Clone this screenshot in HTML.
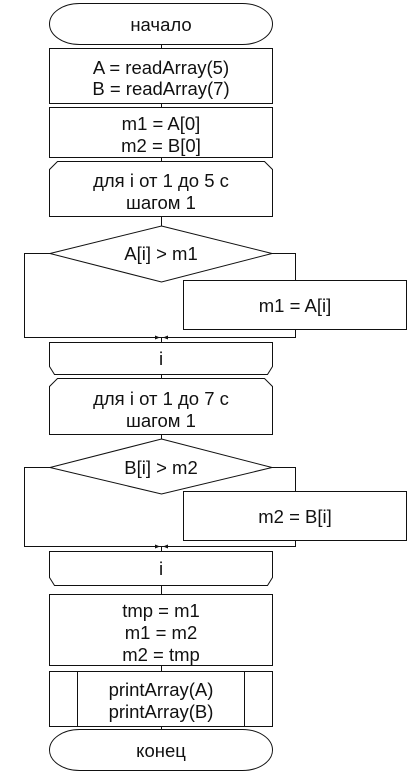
<!DOCTYPE html>
<html><head><meta charset="utf-8">
<style>
html,body{margin:0;padding:0;background:#fff;width:417px;height:778px;overflow:hidden}
svg{display:block}
text{font-family:"Liberation Sans","DejaVu Sans",sans-serif;font-size:18.5px;fill:#111;text-anchor:middle}
.s{fill:#fff;stroke:#111;stroke-width:1}
.l{stroke:#111;stroke-width:1;fill:none}
</style></head><body>
<svg width="417" height="778" viewBox="0 0 417 778">
<g>
<line class="l" x1="161.5" y1="44" x2="161.5" y2="226"/>
<line class="l" x1="161.5" y1="337" x2="161.5" y2="439"/>
<line class="l" x1="161.5" y1="546" x2="161.5" y2="729"/>
<polyline class="l" points="50,253.5 24.5,253.5 24.5,337.5 295.5,337.5 295.5,329"/>
<polyline class="l" points="272,253.5 295.5,253.5 295.5,280"/>
<polyline class="l" points="50,467.5 24.5,467.5 24.5,546.5 295.5,546.5 295.5,541"/>
<polyline class="l" points="272,467.5 295.5,467.5 295.5,491"/>
<polygon points="155,335.5 160,337.5 155,339.5" fill="#111"/>
<polygon points="168,335.5 163,337.5 168,339.5" fill="#111"/>
<polygon points="155,544.5 160,546.5 155,548.5" fill="#111"/>
<polygon points="168,544.5 163,546.5 168,548.5" fill="#111"/>
</g>
<g>
<rect class="s" x="49.5" y="3.5" width="223" height="41" rx="30" ry="20.5"/>
<text x="161" y="31">начало</text></g>
<g>
<rect class="s" x="49.5" y="48.5" width="223" height="55"/>
<text x="161" y="74">A = readArray(5)</text><text x="161" y="95">B = readArray(7)</text></g>
<g>
<rect class="s" x="49.5" y="107.5" width="223" height="50"/>
<text x="161" y="130">m1 = A[0]</text><text x="161" y="152">m2 = B[0]</text></g>
<g>
<polygon class="s" points="57.5,161.5 264.5,161.5 272.5,169.5 272.5,216.5 49.5,216.5 49.5,169.5"/>
<text x="161" y="187">для i от 1 до 5 с</text><text x="161" y="209">шагом 1</text></g>
<g>
<polygon class="s" points="161.5,226 272,253.5 161.5,282 50,253.5"/>
<text x="161" y="260">A[i] &gt; m1</text></g>
<g>
<rect class="s" x="183.5" y="280.5" width="223" height="49"/>
<text x="295" y="312">m1 = A[i]</text></g>
<g>
<polygon class="s" points="49.5,342.5 272.5,342.5 272.5,366.5 267.5,374.5 54.5,374.5 49.5,366.5"/>
<text x="161" y="365">i</text></g>
<g>
<polygon class="s" points="57.5,378.5 264.5,378.5 272.5,386.5 272.5,434.5 49.5,434.5 49.5,386.5"/>
<text x="161" y="405">для i от 1 до 7 с</text><text x="161" y="427">шагом 1</text></g>
<g>
<polygon class="s" points="161.5,439 272,467.5 161.5,494 50,467.5"/>
<text x="161" y="474">B[i] &gt; m2</text></g>
<g>
<rect class="s" x="183.5" y="491.5" width="223" height="49"/>
<text x="295" y="523">m2 = B[i]</text></g>
<g>
<polygon class="s" points="49.5,551.5 272.5,551.5 272.5,577.5 267.5,585.5 54.5,585.5 49.5,577.5"/>
<text x="161" y="575">i</text></g>
<g>
<rect class="s" x="49.5" y="594.5" width="223" height="71"/>
<text x="161" y="617">tmp = m1</text><text x="161" y="639">m1 = m2</text><text x="161" y="661">m2 = tmp</text></g>
<g>
<rect class="s" x="49.5" y="671.5" width="223" height="55"/>
<line class="l" x1="77.5" y1="671.5" x2="77.5" y2="726.5"/>
<line class="l" x1="244.5" y1="671.5" x2="244.5" y2="726.5"/>
<text x="161" y="696">printArray(A)</text><text x="161" y="718">printArray(B)</text></g>
<g>
<rect class="s" x="49.5" y="729.5" width="223" height="41" rx="30" ry="20.5"/>
<text x="161" y="757">конец</text></g>
</svg>
</body></html>
